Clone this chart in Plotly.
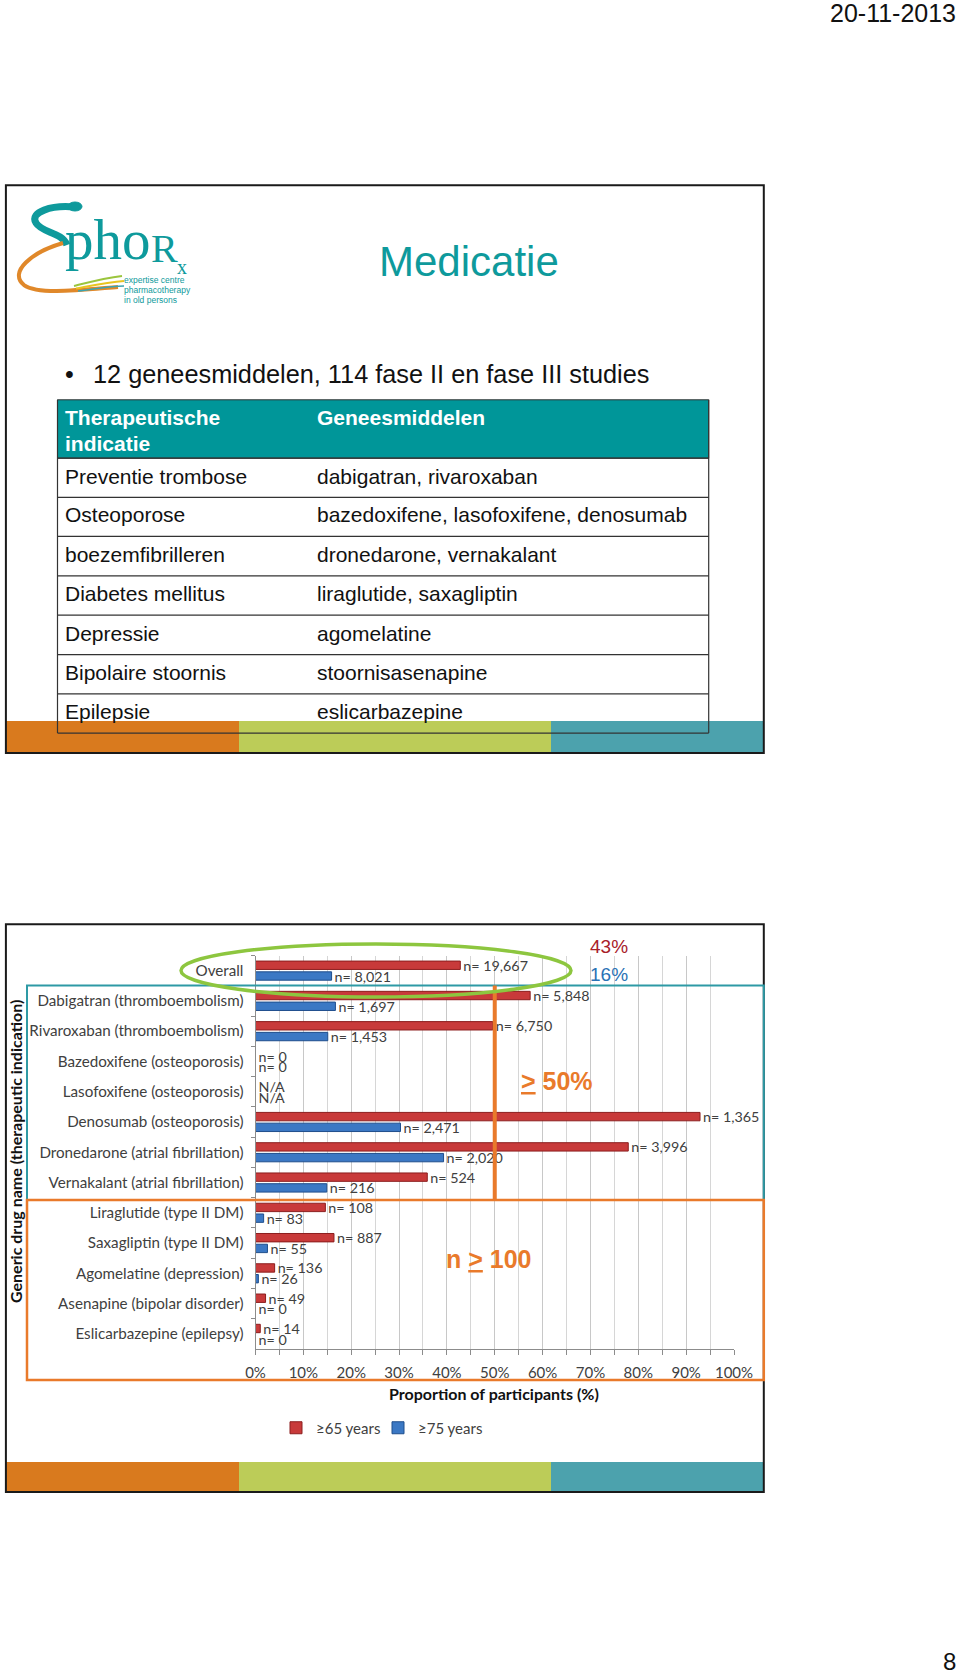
import plotly.graph_objects as go

W, H = 960, 1676


def px(x):
    return x / W


def py(y):
    return 1 - y / H


# ---------------- data ----------------
categories = [
    "Overall",
    "Dabigatran (thromboembolism)",
    "Rivaroxaban (thromboembolism)",
    "Bazedoxifene (osteoporosis)",
    "Lasofoxifene (osteoporosis)",
    "Denosumab (osteoporosis)",
    "Dronedarone (atrial fibrillation)",
    "Vernakalant (atrial fibrillation)",
    "Liraglutide (type II DM)",
    "Saxagliptin (type II DM)",
    "Agomelatine (depression)",
    "Asenapine (bipolar disorder)",
    "Eslicarbazepine (epilepsy)",
]
pct_65 = [42.8, 57.4, 49.6, 0, 0, 92.9, 77.9, 35.9, 14.6, 16.4, 4.0, 2.1, 1.0]
pct_75 = [15.9, 16.7, 15.1, 0, 0, 30.3, 39.3, 14.9, 1.7, 2.5, 0.6, 0, 0]
n_65 = ["n= 19,667", "n= 5,848", "n= 6,750", "n= 0", "N/A", "n= 1,365", "n= 3,996",
        "n= 524", "n= 108", "n= 887", "n= 136", "n= 49", "n= 14"]
n_75 = ["n= 8,021", "n= 1,697", "n= 1,453", "n= 0", "N/A", "n= 2,471", "n= 2,020",
        "n= 216", "n= 83", "n= 55", "n= 26", "n= 0", "n= 0"]
series_names = ["≥65 years", "≥75 years"]

indications = ["Preventie trombose", "Osteoporose", "boezemfibrilleren", "Diabetes mellitus",
               "Depressie", "Bipolaire stoornis", "Epilepsie"]
drugs = ["dabigatran, rivaroxaban", "bazedoxifene, lasofoxifene, denosumab",
         "dronedarone, vernakalant", "liraglutide, saxagliptin", "agomelatine",
         "stoornisasenapine", "eslicarbazepine"]

# ---------------- styles ----------------
CHART_FONT = "Lato, 'Open Sans', sans-serif"
SLIDE_FONT = "'Liberation Sans', Arial, sans-serif"
TEAL = "#0E9A9C"
ORANGE = "#E97A2B"
RED = "#C83A3A"
BLUE = "#3B78C4"

fig = go.Figure()
fig.add_trace(go.Bar(
    y=categories, x=pct_65, name=series_names[0], orientation="h", legend="legend",
    marker=dict(color=RED, line=dict(color="#8C1E1E", width=1)),
    text=n_65, textposition="outside", constraintext="none", cliponaxis=False,
    textfont=dict(family=CHART_FONT, size=14.3, color="#404040"),
))
fig.add_trace(go.Bar(
    y=categories, x=pct_75, name=series_names[1], orientation="h", legend="legend2",
    marker=dict(color=BLUE, line=dict(color="#1F4E8C", width=1)),
    text=n_75, textposition="outside", constraintext="none", cliponaxis=False,
    textfont=dict(family=CHART_FONT, size=14.3, color="#404040"),
))

shapes = []
annotations = []


def rect(x0, y0, x1, y1, fill=None, line=None, lw=0, layer="above"):
    d = dict(type="rect", xref="paper", yref="paper",
             x0=px(x0), x1=px(x1), y0=py(y1), y1=py(y0), layer=layer)
    if fill:
        d["fillcolor"] = fill
    d["line"] = dict(color=line or "rgba(0,0,0,0)", width=lw)
    shapes.append(d)


def hline(x0, x1, y, color, w):
    shapes.append(dict(type="line", xref="paper", yref="paper", x0=px(x0), x1=px(x1),
                       y0=py(y), y1=py(y), line=dict(color=color, width=w)))


def vline(x, y0, y1, color, w):
    shapes.append(dict(type="line", xref="paper", yref="paper", x0=px(x), x1=px(x),
                       y0=py(y0), y1=py(y1), line=dict(color=color, width=w)))


def path(cmds, color, w, fill=None):
    parts = []
    for c, pts in cmds:
        parts.append(c + " " + " ".join(f"{px(a):.5f},{py(b):.5f}" for a, b in pts))
    d = dict(type="path", xref="paper", yref="paper", path=" ".join(parts),
             line=dict(color=color, width=w))
    if fill:
        d["fillcolor"] = fill
    shapes.append(d)


def text(x, y, s, size, color, family=SLIDE_FONT, xanchor="left", yanchor="middle", angle=0):
    annotations.append(dict(x=px(x), y=py(y), xref="paper", yref="paper", text=s,
                            showarrow=False, xanchor=xanchor, yanchor=yanchor, textangle=angle,
                            borderpad=0,
                            font=dict(family=family, size=size, color=color)))


# ---------------- page texts ----------------
text(957, 13, "20-11-2013", 25, "#111", xanchor="right")
text(957, 1676, "8", 24, "#111", xanchor="right", yanchor="bottom")

# ---------------- top slide ----------------
bar_cols = [("#D97A1E", 5.9, 239), ("#BCCC58", 239, 551), ("#4CA2AD", 551, 763.8)]
for col, a, b in bar_cols:
    rect(a, 721, b, 752, fill=col, layer="below")
rect(5.9, 185.2, 763.8, 753, line="#1A1A1A", lw=2)

# logo
path([("M", [(74, 207)]), ("C", [(52, 205), (29, 212), (36, 223)]),
      ("C", [(42, 233), (62, 232), (67, 245)])], TEAL, 7)
shapes.append(dict(type="circle", xref="paper", yref="paper", x0=px(68), x1=px(82),
                   y0=py(211), y1=py(202), fillcolor=TEAL, line=dict(color=TEAL, width=1)))
path([("M", [(63, 243)]), ("C", [(32, 252), (8, 272), (24, 285)]),
      ("C", [(38, 295), (80, 290), (118, 287)])], "#E0882A", 4)
path([("M", [(74, 286)]), ("C", [(90, 282), (105, 278), (122, 276)])], "#9BC53D", 2)
path([("M", [(76, 288.5)]), ("C", [(92, 285.5), (108, 282), (124, 281)])], "#E8C520", 2)
path([("M", [(78, 291)]), ("C", [(95, 289), (110, 286), (124, 286)])], "#3AA3B0", 1.5)
text(64, 272, "pho", 57, TEAL, family="'Liberation Serif', serif", yanchor="bottom")
text(150, 272, "R", 40, TEAL, family="'Liberation Serif', serif", yanchor="bottom")
text(176, 267, "x", 20, TEAL, family="'Liberation Serif', serif")
text(123, 280, "expertise centre", 8.5, TEAL)
text(123, 290, "pharmacotherapy", 8.5, TEAL)
text(123, 300, "in old persons", 8.5, TEAL)

text(469, 261, "Medicatie", 42, TEAL, xanchor="center")
text(64, 374, "•", 25, "#111")
text(92, 374, "12 geneesmiddelen, 114 fase II en fase III studies", 25.3, "#111")

# table
rect(57.5, 399.8, 708.7, 458.2, fill="rgb(0,150,153)", line="#333", lw=1)
text(64, 417.5, "<b>Therapeutische</b>", 21, "white")
text(64, 443.4, "<b>indicatie</b>", 21, "white")
text(316, 417.5, "<b>Geneesmiddelen</b>", 21, "white")
row_lines = [458.2, 497.4, 536.3, 575.9, 615.1, 654.7, 693.9, 733.1]
for yl in row_lines:
    hline(57.5, 708.7, yl, "#333", 1.2)
vline(57.5, 399.8, 733.1, "#333", 1.2)
vline(708.7, 399.8, 733.1, "#333", 1.2)
row_centers = [476, 514.8, 554.8, 593.6, 633.2, 672, 711.6]
for yc, a, b in zip(row_centers, indications, drugs):
    text(64, yc, a, 21, "#111")
    text(316, yc, b, 21, "#111")

# ---------------- bottom slide ----------------
for col, a, b in bar_cols:
    rect(a, 1462, b, 1492, fill=col, layer="below")
rect(5.9, 924.3, 763.8, 1492, line="#1A1A1A", lw=2)

# highlight boxes
rect(27, 985.4, 763.8, 1200, line="#2E9AA5", lw=2)
rect(27, 1200, 763.8, 1380, line=ORANGE, lw=2.5)
shapes.append(dict(type="line", xref="x", yref="paper", x0=50, x1=50,
                   y0=py(985.4), y1=py(1200), line=dict(color=ORANGE, width=4)))
shapes.append(dict(type="circle", xref="paper", yref="paper", x0=px(181), x1=px(571),
                   y0=py(997), y1=py(944), line=dict(color="#8DC63F", width=3.5)))

text(609, 946, "43%", 19, "#A8202A", xanchor="center")
text(609, 974, "16%", 19, "#2A72B5", xanchor="center")
text(557, 1081, "<b><u>></u> 50%</b>", 25, ORANGE, xanchor="center")
text(489, 1259, "<b>n <u>></u> 100</b>", 25, ORANGE, xanchor="center")

text(15, 1152, "<b>Generic drug name (therapeutic indication)</b>", 16, "#111",
     family=CHART_FONT, xanchor="center", angle=-90)
text(494, 1393, "<b>Proportion of participants (%)</b>", 16, "#111",
     family=CHART_FONT, xanchor="center")

legend_style = dict(orientation="h", xanchor="left", yanchor="middle",
                    font=dict(family=CHART_FONT, size=15, color="#404040"),
                    bgcolor="rgba(0,0,0,0)", itemwidth=30)

fig.update_layout(
    width=W, height=H, margin=dict(l=0, r=0, t=0, b=0, autoexpand=False),
    paper_bgcolor="white", plot_bgcolor="white",
    barmode="group", bargap=0.29, bargroupgap=0.22,
    shapes=shapes, annotations=annotations,
    showlegend=True,
    legend=dict(x=px(276), y=py(1428), **legend_style),
    legend2=dict(x=px(378), y=py(1428), **legend_style),
    xaxis=dict(domain=[px(255.5), px(734)], range=[0, 100], dtick=10, ticksuffix="%",
               showgrid=True, gridcolor="#C8C8C8", zeroline=False,
               showline=True, linecolor="#8C8C8C", ticks="outside", ticklen=5,
               tickcolor="#8C8C8C", ticklabelstandoff=5,
               minor=dict(dtick=5, showgrid=True, gridcolor="#D6D6D6", ticks="outside",
                          ticklen=5, tickcolor="#8C8C8C"),
               tickfont=dict(family=CHART_FONT, size=15, color="#404040"), fixedrange=True),
    yaxis=dict(domain=[py(1349), py(955.5)], type="category", autorange="reversed",
               showline=True, linecolor="#8C8C8C", ticks="outside", tickson="boundaries",
               ticklen=4, tickcolor="#8C8C8C", showgrid=False, ticklabelstandoff=8,
               tickfont=dict(family=CHART_FONT, size=15.2, color="#404040"), fixedrange=True),
)

fig.write_html(
    "out.html",
    post_script="document.body.style.margin='0';document.body.style.padding='0';"
                "document.documentElement.style.overflow='hidden';",
)
